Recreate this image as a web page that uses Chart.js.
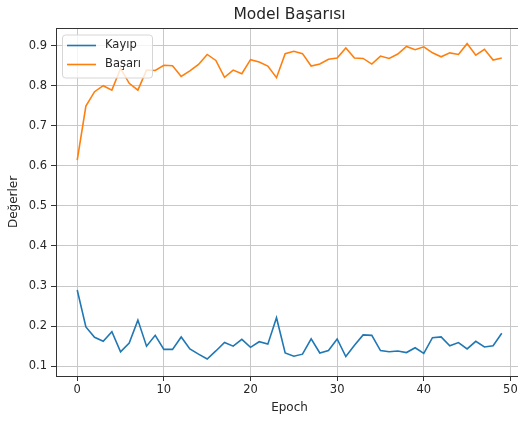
<!DOCTYPE html>
<html>
<head>
<meta charset="utf-8">
<script src="https://cdn.jsdelivr.net/npm/chart.js@4/dist/chart.umd.min.js"></script>
<style>
  html, body { margin: 0; padding: 0; background: #fff; overflow: hidden; }
  #wrap { width: 530px; height: 423px; }
</style>
</head>
<body>
<div id="wrap"><canvas id="chart" width="530" height="423"></canvas></div>
<script>
// values
const epochs = [];
for (let i = 0; i < 50; i++) epochs.push(i);

const kayip = [0.290, 0.198, 0.172, 0.162, 0.186, 0.136, 0.158, 0.215, 0.150, 0.177,
               0.142, 0.142, 0.173, 0.143, 0.130, 0.118, 0.138, 0.159, 0.150, 0.167,
               0.147, 0.161, 0.155, 0.221, 0.133, 0.125, 0.130, 0.168, 0.133, 0.139,
               0.168, 0.124, 0.152, 0.178, 0.177, 0.139, 0.136, 0.138, 0.134, 0.146,
               0.132, 0.171, 0.173, 0.151, 0.159, 0.143, 0.162, 0.148, 0.151, 0.182];

const basari = [0.614, 0.749, 0.785, 0.800, 0.789, 0.843, 0.806, 0.789, 0.839, 0.838,
                0.851, 0.850, 0.823, 0.837, 0.853, 0.878, 0.863, 0.821, 0.839, 0.830,
                0.865, 0.859, 0.849, 0.820, 0.880, 0.886, 0.880, 0.849, 0.854, 0.866,
                0.869, 0.894, 0.869, 0.868, 0.854, 0.874, 0.868, 0.879, 0.898, 0.890,
                0.897, 0.882, 0.872, 0.882, 0.878, 0.905, 0.876, 0.891, 0.864, 0.869];

const seriesNames = ['Kayıp', 'Başarı'];
const chartTitle = 'Model Başarısı';
const xTicks = [0, 10, 20, 30, 40, 50];
const yTicks = [0.1, 0.2, 0.3, 0.4, 0.5, 0.6, 0.7, 0.8, 0.9];

const textColor = '#262626';
const font = 'DejaVu Sans';

function toPoints(values) {
    return values.map((v, i) => ({ x: epochs[i], y: v }));
}

// frame, title over the plot area and legend box inside it (top left)
const decorations = {
    id: 'decorations',
    afterDraw(chart) {
        const ctx = chart.ctx;
        const area = chart.chartArea;
        ctx.save();
        ctx.strokeStyle = '#333';
        ctx.lineWidth = 1;
        ctx.strokeRect(area.left + 0.5, area.top + 0.5, area.right - area.left, area.bottom - area.top);

        ctx.fillStyle = textColor;
        ctx.font = '15.5px "' + font + '"';
        ctx.textAlign = 'center';
        ctx.textBaseline = 'middle';
        ctx.fillText(chartTitle, (area.left + area.right) / 2, 14.5);

        const x = area.left + 6, y = area.top + 6.5, w = 90, h = 43;
        ctx.beginPath();
        ctx.roundRect(x + 0.5, y + 0.5, w, h, 3);
        ctx.fillStyle = 'rgba(255,255,255,0.8)';
        ctx.fill();
        ctx.strokeStyle = '#d6d6d6';
        ctx.stroke();

        ctx.font = '11.5px "' + font + '"';
        ctx.textAlign = 'left';
        chart.data.datasets.forEach((ds, i) => {
            const ly = y + 11 + i * 19;
            ctx.beginPath();
            ctx.moveTo(x + 5, ly);
            ctx.lineTo(x + 34, ly);
            ctx.strokeStyle = ds.borderColor;
            ctx.lineWidth = 1.6;
            ctx.stroke();
            ctx.fillStyle = textColor;
            ctx.fillText(ds.label, x + 43, ly);
        });
        ctx.restore();
    }
};

new Chart(document.getElementById('chart').getContext('2d'), {
    type: 'line',
    data: {
        datasets: [{
            label: seriesNames[0],
            data: toPoints(kayip),
            borderColor: '#1f77b4',
            borderWidth: 1.6,
            pointRadius: 0,
            tension: 0,
            fill: false
        }, {
            label: seriesNames[1],
            data: toPoints(basari),
            borderColor: '#ff7f0e',
            borderWidth: 1.6,
            pointRadius: 0,
            tension: 0,
            fill: false
        }]
    },
    options: {
        responsive: false,
        animation: false,
        layout: { padding: { left: 0, right: 7, top: 28, bottom: 0 } },
        plugins: {
            legend: { display: false },
            tooltip: { enabled: false },
            title: { display: false }
        },
        scales: {
            x: {
                type: 'linear',
                min: -2.45,
                max: 51.45,
                afterBuildTicks: (scale) => { scale.ticks = xTicks.map(v => ({ value: v })); },
                afterFit: (scale) => { scale.height = 47; },
                grid: { color: '#c8c8c8', lineWidth: 1, tickColor: '#333', tickLength: 5 },
                border: { color: '#333', width: 1 },
                ticks: { color: textColor, font: { family: font, size: 11.5 }, padding: 2, maxRotation: 0 },
                title: {
                    display: true,
                    text: 'Epoch',
                    color: textColor,
                    font: { family: font, size: 12 },
                    padding: { top: 0, bottom: 8 }
                }
            },
            y: {
                min: 0.0755,
                max: 0.944,
                afterBuildTicks: (scale) => { scale.ticks = yTicks.map(v => ({ value: v })); },
                afterFit: (scale) => { scale.width = 56; },
                grid: { color: '#c8c8c8', lineWidth: 1, tickColor: '#333', tickLength: 5 },
                border: { color: '#333', width: 1 },
                ticks: {
                    color: textColor,
                    font: { family: font, size: 11.5 },
                    padding: 4,
                    callback: (v) => v.toFixed(1)
                },
                title: {
                    display: true,
                    text: 'Değerler',
                    color: textColor,
                    font: { family: font, size: 12 },
                    padding: { top: 7, bottom: 0 }
                }
            }
        }
    },
    plugins: [decorations]
});
</script>
</body>
</html>
